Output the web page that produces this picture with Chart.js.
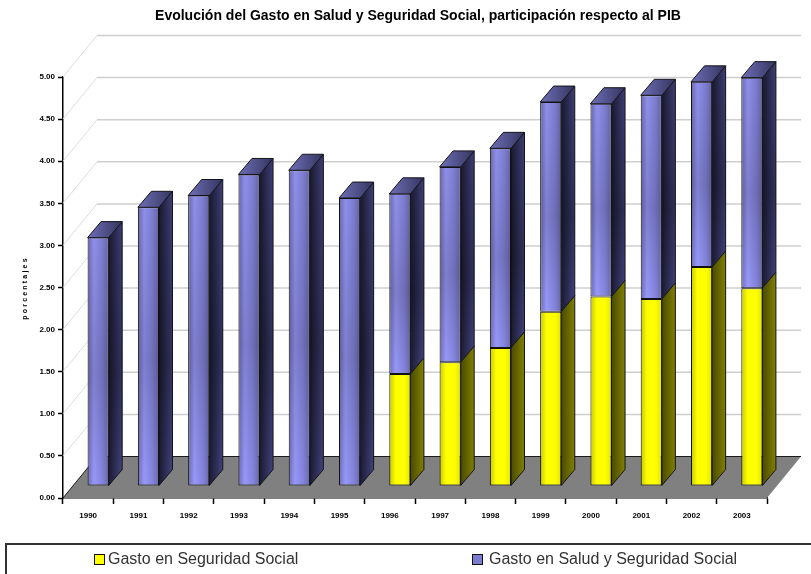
<!DOCTYPE html>
<html lang="es">
<head>
<meta charset="utf-8">
<title>Gasto en Salud y Seguridad Social</title>
<script src="https://cdn.jsdelivr.net/npm/chart.js@4"></script>
<style>
html,body{margin:0;padding:0;background:#fff;overflow:hidden}
#wrap{position:relative;width:811px;height:574px;overflow:hidden}
canvas{display:block}
#legend{position:absolute;left:5px;top:543px;width:820px;height:40px;border:2px solid #333;box-sizing:border-box;font:16px "Liberation Sans",Arial,sans-serif;color:#333}
#legend span{position:absolute;top:5px;white-space:nowrap;line-height:18px}
#legend i{position:absolute;top:9px;width:9px;height:9px;border:1px solid #111;box-sizing:content-box}
</style>
</head>
<body>
<div id="wrap">
<canvas id="c" width="811" height="574"></canvas>
<div id="legend"></div>
</div>
<script>
const titleText = 'Evolución del Gasto en Salud y Seguridad Social, participación respecto al PIB';
const yAxisTitle = 'porcentajes';
const years = ['1990','1991','1992','1993','1994','1995','1996','1997','1998','1999','2000','2001','2002','2003'];
const seguridadName = 'Gasto en Seguridad Social';
const saludName = 'Gasto en Salud y Seguridad Social';
const seguridad = [null,null,null,null,null,null,1.33,1.47,1.64,2.07,2.25,2.22,2.60,2.35];
const salud = [2.95,3.31,3.45,3.70,3.75,3.42,2.14,2.32,2.37,2.49,2.29,2.42,2.20,2.50];

const palette = [
  {front:['#c8c800','#ffff00','#ffff00','#e4e400'], side:['#4a4a00','#808000'], top:['#8c8c00','#6a6a00'], swatch:'#ffff00', shade:0},
  {front:['#6e6eb4','#9898fa','#8484dc','#6a6aac'], side:['#1b1b33','#444480'], top:['#6e6eb8','#35355e'], swatch:'#7b7bd0', shade:.17}
];
// Oblique projection of the drawing: floor depth and the bar's own position and depth
const floorD = {x:34,y:-41.5}, barOff = {x:10,y:-12}, barD = {x:13.5,y:-16};

function poly(ctx, pts, fill, stroke){
  ctx.beginPath();
  pts.forEach((p,i)=> i ? ctx.lineTo(p[0],p[1]) : ctx.moveTo(p[0],p[1]));
  ctx.closePath();
  if(fill){ctx.fillStyle=fill;ctx.fill();}
  if(stroke){ctx.strokeStyle=stroke;ctx.lineWidth=1;ctx.stroke();}
}
function shadeGrad(ctx,t,b,a){
  const g=ctx.createLinearGradient(0,t,0,b);
  g.addColorStop(0,`rgba(0,0,0,${a*.35})`);g.addColorStop(.55,`rgba(0,0,0,${a})`);g.addColorStop(1,'rgba(0,0,0,0)');
  return g;
}
function hasValue(chart,di,i){ const v=chart.data.datasets[di].data[i]; return v!==null && v!==undefined; }

const scene = {
  id:'scene',
  afterLayout(chart){
    const t = chart.titleBlock, w = t.right - t.left;
    t.left = 418 - w/2; t.right = 418 + w/2;
  },
  beforeDatasetsDraw(chart){
    const {ctx, chartArea:a, scales:{y}} = chart;
    ctx.save();
    // walls: one diagonal and one back line per tick
    y.ticks.forEach(tk=>{
      const py = y.getPixelForValue(tk.value);
      if(tk.value>0){
        ctx.strokeStyle='#dcdcdc';ctx.lineWidth=1;
        ctx.beginPath();ctx.moveTo(a.left,py);ctx.lineTo(a.left+floorD.x,py+floorD.y);ctx.stroke();
        ctx.strokeStyle='#cfcfcf';ctx.lineWidth=1.5;
        ctx.beginPath();ctx.moveTo(a.left+floorD.x,py+floorD.y);ctx.lineTo(a.right+floorD.x,py+floorD.y);ctx.stroke();
      }
    });
    // floor
    const b = y.getPixelForValue(0);
    poly(ctx,[[a.left,b],[a.right,b],[a.right+floorD.x,b+floorD.y],[a.left+floorD.x,b+floorD.y]],'#808080');
    ctx.strokeStyle='#1a1a1a';ctx.lineWidth=1;
    ctx.beginPath();ctx.moveTo(a.left,b);ctx.lineTo(a.left+floorD.x,b+floorD.y);ctx.lineTo(a.right+floorD.x,b+floorD.y);ctx.stroke();
    // vertical axis title
    ctx.translate(25,288);ctx.rotate(-Math.PI/2);
    ctx.font='bold 7px "Liberation Sans",Arial,sans-serif';
    ctx.letterSpacing='2.2px';
    ctx.fillStyle='#000';ctx.textAlign='center';ctx.textBaseline='middle';
    ctx.fillText(yAxisTitle,0,0);
    ctx.restore();
  },
  beforeDatasetDraw(chart,args){
    const {ctx} = chart, meta = chart.getDatasetMeta(args.index), c = palette[args.index];
    const topIndex = chart.data.datasets.length-1;
    ctx.save();
    ctx.translate(barOff.x,barOff.y);
    meta.data.forEach((el,i)=>{
      if(!hasValue(chart,args.index,i)) return;
      const l=el.x-el.width/2, r=el.x+el.width/2, t=el.y, b=el.base;
      const sg=ctx.createLinearGradient(r,0,r+barD.x,0);
      sg.addColorStop(0,c.side[0]);sg.addColorStop(1,c.side[1]);
      const side=[[r,t],[r+barD.x,t+barD.y],[r+barD.x,b+barD.y],[r,b]];
      poly(ctx,side,sg,'#14141e');
      if(c.shade) poly(ctx,side,shadeGrad(ctx,t,b,c.shade*1.6));
      if(args.index===topIndex){
        const tg=ctx.createLinearGradient(l,t,r+barD.x,t);
        tg.addColorStop(0,c.top[0]);tg.addColorStop(1,c.top[1]);
        poly(ctx,[[l,t],[l+barD.x,t+barD.y],[r+barD.x,t+barD.y],[r,t]],tg,'#14141e');
      }
    });
  },
  afterDatasetDraw(chart,args){
    const {ctx} = chart, meta = chart.getDatasetMeta(args.index), c = palette[args.index];
    if(c.shade) meta.data.forEach((el,i)=>{
      if(!hasValue(chart,args.index,i)) return;
      const l=el.x-el.width/2+.5, r=el.x+el.width/2-.5;
      poly(ctx,[[l,el.y+.5],[r,el.y+.5],[r,el.base-.5],[l,el.base-.5]],shadeGrad(ctx,el.y,el.base,c.shade));
    });
    ctx.restore();
  }
};

function frontFill(idx){
  return (c)=>{
    const cols=palette[idx].front;
    if(c.dataIndex===undefined) return palette[idx].swatch;
    const x=c.chart.scales.x.getPixelForValue(c.dataIndex);
    if(!isFinite(x)) return palette[idx].swatch;
    const g=c.chart.ctx.createLinearGradient(x-10.5,0,x+10.5,0);
    g.addColorStop(0,cols[0]);g.addColorStop(.3,cols[1]);g.addColorStop(.7,cols[2]);g.addColorStop(1,cols[3]);
    return g;
  };
}

new Chart(document.getElementById('c'),{
  type:'bar',
  data:{labels:years,datasets:[
    {label:seguridadName,data:seguridad,backgroundColor:frontFill(0),borderColor:'#111',borderWidth:1,borderSkipped:false,clip:false},
    {label:saludName,data:salud,backgroundColor:frontFill(1),borderColor:'#111',borderWidth:1,borderSkipped:false,clip:false}
  ]},
  plugins:[scene],
  options:{
    responsive:false,animation:false,
    categoryPercentage:1,barPercentage:.42,
    layout:{padding:{left:0,right:44,top:0,bottom:46}},
    plugins:{
      legend:{display:false},
      tooltip:{enabled:false},
      title:{display:true,text:titleText,color:'#000',
        font:{family:'"Liberation Sans",Arial,sans-serif',size:14,weight:'bold',lineHeight:1.2},
        padding:{top:8,bottom:52.2}}
    },
    scales:{
      x:{stacked:true,offset:true,
        afterFit(s){s.height=30;},
        grid:{offset:true,drawOnChartArea:false,drawTicks:true,tickLength:6,tickColor:'#000',tickWidth:1.5},
        border:{display:true,color:'#000',width:1.5},
        ticks:{color:'#000',padding:7,maxRotation:0,autoSkip:false,font:{family:'"Liberation Sans",Arial,sans-serif',size:8,weight:'bold'}}},
      y:{stacked:true,min:0,max:5,
        afterFit(s){s.width=63;},
        grid:{drawOnChartArea:false,drawTicks:true,tickLength:5,tickColor:'#000',tickWidth:1.5},
        border:{display:true,color:'#000',width:1.5},
        ticks:{stepSize:.5,color:'#000',padding:3,callback:v=>v.toFixed(2),font:{family:'"Liberation Sans",Arial,sans-serif',size:8,weight:'bold'}}}
    }
  }
});

// Legend
const legendEl=document.getElementById('legend');
[[seguridadName,87,101,0],[saludName,465,482,1]].forEach(([name,bx,tx,i])=>{
  const m=document.createElement('i');m.style.left=bx+'px';m.style.background=palette[i].swatch;
  const s=document.createElement('span');s.style.left=tx+'px';s.textContent=name;
  legendEl.append(m,s);
});
</script>
</body>
</html>
